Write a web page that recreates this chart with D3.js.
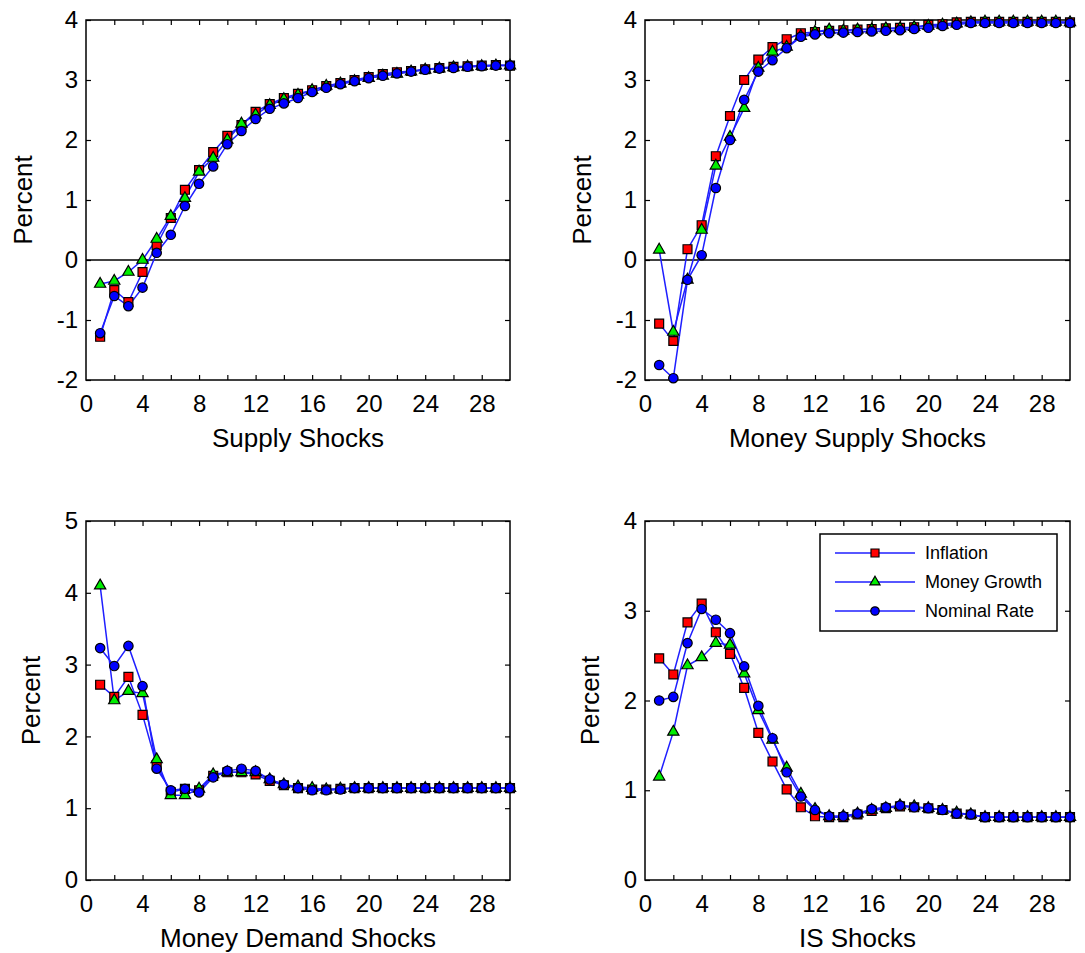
<!DOCTYPE html>
<html>
<head>
<meta charset="utf-8">
<script src="https://cdn.jsdelivr.net/npm/d3@7/dist/d3.min.js"></script>
<style>
body { margin: 0; background: #fff; }
svg text { font-family: "Liberation Sans", Arial, sans-serif; fill: #000; }
</style>
</head>
<body>
<script>
//periods after the shock
var periods = [1,2,3,4,5,6,7,8,9,10,11,12,13,14,15,16,17,18,19,20,21,22,23,24,25,26,27,28,29,30];
var seriesNames = ["Inflation", "Money Growth", "Nominal Rate"];
var panelTitles = ["Supply Shocks", "Money Supply Shocks", "Money Demand Shocks", "IS Shocks"];

//tick labels
var xTickLabels = [0,4,8,12,16,20,24,28];
var xMinorTicks = [2,4,6,8,10,12,14,16,18,20,22,24,26,28];
var yTicksTop = [-2,-1,0,1,2,3,4];
var yTicksDemand = [0,1,2,3,4,5];
var yTicksIS = [0,1,2,3,4];

//supply shocks
var supplyInflation = [-1.28,-0.5,-0.7,-0.2,0.25,0.7,1.17,1.5,1.8,2.07,2.25,2.47,2.6,2.7,2.77,2.83,2.9,2.95,3.0,3.05,3.1,3.13,3.15,3.18,3.2,3.22,3.23,3.24,3.25,3.24];
var supplyMoney = [-0.4,-0.35,-0.2,0.0,0.35,0.73,1.03,1.47,1.7,2.0,2.27,2.42,2.58,2.68,2.75,2.83,2.9,2.94,2.98,3.03,3.07,3.1,3.14,3.17,3.19,3.21,3.22,3.23,3.24,3.24];
var supplyRate = [-1.22,-0.6,-0.77,-0.46,0.12,0.42,0.9,1.27,1.56,1.93,2.15,2.35,2.52,2.61,2.7,2.8,2.87,2.93,2.98,3.03,3.07,3.11,3.14,3.17,3.19,3.2,3.22,3.23,3.24,3.24];

//money supply shocks
var msInflation = [-1.06,-1.35,0.18,0.58,1.73,2.4,3.0,3.34,3.55,3.68,3.78,3.8,3.82,3.83,3.84,3.85,3.86,3.87,3.88,3.92,3.93,3.96,3.97,3.97,3.97,3.97,3.97,3.97,3.97,3.96];
var msMoney = [0.17,-1.2,-0.33,0.5,1.57,2.05,2.53,3.2,3.47,3.55,3.73,3.8,3.84,3.82,3.84,3.84,3.86,3.86,3.88,3.9,3.92,3.94,3.96,3.97,3.97,3.97,3.97,3.97,3.97,3.96];
var msRate = [-1.75,-1.97,-0.33,0.08,1.2,2.0,2.67,3.14,3.33,3.53,3.72,3.76,3.78,3.79,3.8,3.81,3.82,3.83,3.85,3.87,3.9,3.92,3.95,3.95,3.95,3.95,3.95,3.95,3.95,3.95];

//money demand shocks
var mdInflation = [2.72,2.55,2.83,2.3,1.6,1.22,1.27,1.25,1.45,1.5,1.5,1.47,1.38,1.32,1.28,1.26,1.26,1.27,1.28,1.28,1.28,1.28,1.28,1.28,1.28,1.28,1.28,1.28,1.28,1.28];
var mdMoney = [4.1,2.5,2.63,2.6,1.68,1.18,1.18,1.27,1.47,1.5,1.5,1.5,1.4,1.33,1.3,1.28,1.26,1.27,1.28,1.28,1.28,1.28,1.28,1.28,1.28,1.28,1.28,1.28,1.28,1.28];
var mdRate = [3.23,2.98,3.26,2.7,1.55,1.25,1.27,1.22,1.43,1.52,1.55,1.52,1.4,1.33,1.28,1.25,1.25,1.26,1.28,1.28,1.28,1.28,1.28,1.28,1.28,1.28,1.28,1.28,1.28,1.28];

//IS shocks
var isInflation = [2.47,2.29,2.87,3.08,2.76,2.52,2.14,1.64,1.32,1.01,0.81,0.71,0.7,0.7,0.73,0.77,0.8,0.82,0.81,0.8,0.78,0.74,0.73,0.7,0.7,0.7,0.7,0.7,0.7,0.7];
var isMoney = [1.15,1.65,2.39,2.48,2.64,2.62,2.3,1.89,1.56,1.25,0.96,0.79,0.71,0.71,0.74,0.78,0.8,0.83,0.82,0.8,0.78,0.75,0.73,0.7,0.7,0.7,0.7,0.7,0.7,0.7];
var isRate = [2.0,2.04,2.64,3.02,2.9,2.75,2.38,1.94,1.58,1.2,0.93,0.78,0.71,0.71,0.74,0.79,0.81,0.83,0.81,0.8,0.78,0.74,0.73,0.7,0.7,0.7,0.7,0.7,0.7,0.7];

function drawCharts(){
    var width = 1085,
        height = 953;

    var svg = d3.select("body")
        .append("svg")
        .attr("width", width)
        .attr("height", height);

    //panel frames, in pixels
    var panels = [
        {title: panelTitles[0], left: 86, right: 510, top: 20, bottom: 380, yTicks: yTicksTop, zero: true, series: [supplyInflation, supplyMoney, supplyRate]},
        {title: panelTitles[1], left: 645, right: 1070, top: 20, bottom: 380, yTicks: yTicksTop, zero: true, series: [msInflation, msMoney, msRate]},
        {title: panelTitles[2], left: 86, right: 510, top: 521, bottom: 880, yTicks: yTicksDemand, zero: false, series: [mdInflation, mdMoney, mdRate]},
        {title: panelTitles[3], left: 645, right: 1070, top: 521, bottom: 880, yTicks: yTicksIS, zero: false, series: [isInflation, isMoney, isRate], legend: true}
    ];

    var lineColor = "#1f1fff";
    var markerFill = ["#ff0000", "#00ee00", "#0000ff"];
    var markerShape = [d3.symbolSquare, d3.symbolTriangle, d3.symbolCircle];
    var markerSize = [80, 55, 70];
    var plainNum = function(d){ return String(d); }; //keeps the hyphen minus

    panels.forEach(function(p){
        var yExt = d3.extent(p.yTicks);
        var x = d3.scaleLinear().domain([0, 30]).range([p.left, p.right]);
        var y = d3.scaleLinear().domain(yExt).range([p.bottom, p.top]);
        var g = svg.append("g");
        var pw = p.right - p.left, ph = p.bottom - p.top;

        //inward ticks on all four sides
        g.append("g")
            .attr("transform", "translate(0," + p.bottom + ")")
            .call(d3.axisBottom(x).tickValues(xMinorTicks).tickSizeInner(-5).tickSizeOuter(0).tickFormat(""));
        g.append("g")
            .attr("transform", "translate(0," + p.top + ")")
            .call(d3.axisTop(x).tickValues(xMinorTicks).tickSizeInner(-5).tickSizeOuter(0).tickFormat(""));
        g.append("g")
            .attr("transform", "translate(" + p.left + ",0)")
            .call(d3.axisLeft(y).tickValues(p.yTicks).tickSizeInner(-5).tickSizeOuter(0).tickFormat(""));
        g.append("g")
            .attr("transform", "translate(" + p.right + ",0)")
            .call(d3.axisRight(y).tickValues(p.yTicks).tickSizeInner(-5).tickSizeOuter(0).tickFormat(""));
        g.selectAll(".domain").remove();
        g.selectAll(".tick line").attr("stroke", "#000").attr("stroke-width", 1.2);

        //tick labels
        g.append("g")
            .attr("transform", "translate(0," + p.bottom + ")")
            .call(d3.axisBottom(x).tickValues(xTickLabels).tickSize(0).tickPadding(0).tickFormat(plainNum))
            .call(function(a){ a.select(".domain").remove(); })
            .selectAll("text")
            .attr("font-size", 24)
            .attr("dy", null)
            .attr("y", 32)
            .attr("font-family", null);
        g.append("g")
            .attr("transform", "translate(" + p.left + ",0)")
            .call(d3.axisLeft(y).tickValues(p.yTicks).tickSize(0).tickPadding(8).tickFormat(plainNum))
            .call(function(a){ a.select(".domain").remove(); })
            .selectAll("text")
            .attr("font-size", 24)
            .attr("font-family", null);

        //frame
        g.append("rect")
            .attr("x", p.left).attr("y", p.top)
            .attr("width", pw).attr("height", ph)
            .attr("fill", "none").attr("stroke", "#000").attr("stroke-width", 1.5);

        if (p.zero) {
            g.append("line")
                .attr("x1", p.left).attr("x2", p.right)
                .attr("y1", y(0)).attr("y2", y(0))
                .attr("stroke", "#000").attr("stroke-width", 1.6);
        }

        //labels
        g.append("text")
            .attr("x", (p.left + p.right) / 2)
            .attr("y", p.bottom + 67)
            .attr("text-anchor", "middle")
            .attr("font-size", 26)
            .text(p.title);
        var ylx = p.left - (p.zero ? 54 : 46);
        g.append("text")
            .attr("transform", "translate(" + ylx + "," + ((p.top + p.bottom) / 2) + ") rotate(-90)")
            .attr("text-anchor", "middle")
            .attr("font-size", 26)
            .text("Percent");

        //lines then markers
        var line = d3.line()
            .x(function(d, i){ return x(periods[i]); })
            .y(function(d){ return y(d); });

        p.series.forEach(function(vals, s){
            g.append("path")
                .datum(vals)
                .attr("d", line)
                .attr("fill", "none")
                .attr("stroke", lineColor)
                .attr("stroke-width", 1.5);
        });
        p.series.forEach(function(vals, s){
            g.selectAll(".m" + s)
                .data(vals)
                .enter()
                .append("path")
                .attr("class", "m" + s)
                .attr("transform", function(d, i){ return "translate(" + x(periods[i]) + "," + y(d) + ")"; })
                .attr("d", d3.symbol().type(markerShape[s]).size(markerSize[s]))
                .attr("fill", markerFill[s])
                .attr("stroke", "#000")
                .attr("stroke-width", 1.2);
        });

        if (p.legend) {
            var lg = g.append("g");
            lg.append("rect")
                .attr("x", 820).attr("y", 534)
                .attr("width", 237).attr("height", 97)
                .attr("fill", "#fff").attr("stroke", "#000").attr("stroke-width", 1.5);
            seriesNames.forEach(function(name, s){
                var ry = 553 + s * 29;
                lg.append("line")
                    .attr("x1", 835).attr("x2", 915)
                    .attr("y1", ry).attr("y2", ry)
                    .attr("stroke", lineColor).attr("stroke-width", 1.5);
                lg.append("path")
                    .attr("transform", "translate(875," + ry + ")")
                    .attr("d", d3.symbol().type(markerShape[s]).size(markerSize[s] * 0.8))
                    .attr("fill", markerFill[s])
                    .attr("stroke", "#000")
                    .attr("stroke-width", 1.2);
                lg.append("text")
                    .attr("x", 925)
                    .attr("y", ry + 6)
                    .attr("font-size", 18)
                    .text(name);
            });
        }
    });
}

window.onload = drawCharts;
</script>
</body>
</html>
